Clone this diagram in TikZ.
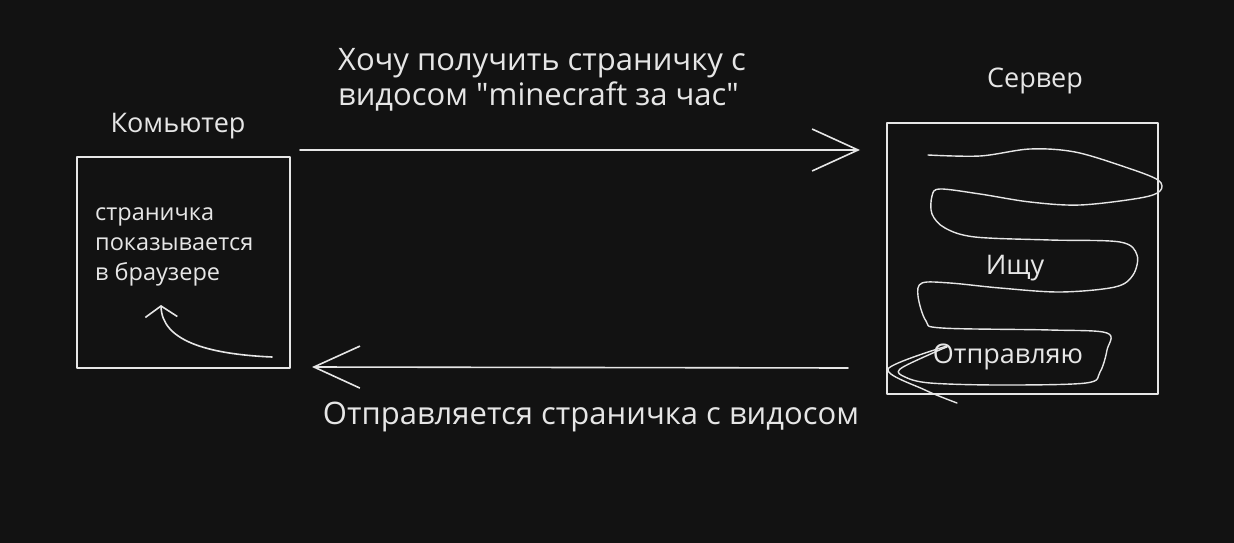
\documentclass[tikz,border=0pt]{standalone}
\usepackage{fontspec}
\setmainfont{Open Sans}
\newfontfamily\qf{Open Sans}
\usetikzlibrary{arrows.meta}
\definecolor{bgc}{HTML}{121212}
\definecolor{ink}{HTML}{E6E6E6}
\tikzset{
  sketch/.style={draw=ink, line width=1.6pt, line cap=round, line join=round},
  boxshape/.style={sketch, rectangle, inner sep=0pt},
  lbl/.style={text=ink, font=\fontsize{27}{34}\selectfont, inner sep=0pt},
  wide/.style={text=ink, font=\fontsize{31}{35}\selectfont, inner sep=0pt},
  small/.style={text=ink, font=\fontsize{23.5}{30}\selectfont, inner sep=0pt, align=left},
  bigarrow/.style={sketch, -{Straight Barb[length=46pt, width=42pt, line width=1.6pt]}},
  smallarrow/.style={sketch, -{Straight Barb[length=11pt, width=32pt, line width=1.6pt]}}
}
\begin{document}
\begin{tikzpicture}[x=1pt, y=-1pt]
\useasboundingbox (0,0) rectangle (1234,543);
\fill[bgc] (0,0) rectangle (1234,543);

% computer
\node[boxshape, minimum width=213pt, minimum height=211pt] (comp) at (183.5,262.5) {};
\node[lbl] (compl) at (178,126) {Комьютер};
\node[small, anchor=north west] (page) at (95,207) {страничка\\показывается\\в браузере};
\coordinate (ca1) at (272,357);
\coordinate (ca2) at (161,305);
\draw[smallarrow] (ca1) .. controls (205,354) and (162,340) .. (ca2);

% server
\node[boxshape, minimum width=271pt, minimum height=271pt] (srv) at (1022.5,258.5) {};
\node[lbl] (srvl) at (1035,81) {Сервер};
\draw[sketch, line width=1.4pt] plot[smooth, tension=0.55] coordinates {
 (928,155) (980,156) (1030,149) (1075,152) (1125,167) (1158,180) (1160,191)
 (1140,198) (1080,205) (1030,202) (980,194) (940,189) (932,196) (932,214)
 (945,228) (975,237) (1050,240) (1120,242) (1137,255) (1133,275) (1115,287)
 (1060,292) (1000,288) (950,283) (922,283) (918,296) (926,321) (942,328)
 (1050,330) (1107,333) (1107,350) (1100,372) (1086,383) (1000,385) (930,383)
 (905,377) (900,369) (935,352) (947,347)};
\draw[sketch, line width=1.4pt] plot[smooth, tension=0.5] coordinates {
 (947,346) (888,369) (925,390) (957,403)};
\node[lbl] (search) at (1015,268) {Ищу};
\node[lbl] (send) at (1008,357) {Отправляю};

% arrows
\coordinate (a1s) at (300,150);
\coordinate (a1e) at (860,150);
\coordinate (a2s) at (848,368);
\coordinate (a2e) at (312,367);
\draw[bigarrow] (a1s) -- (a1e);
\draw[bigarrow] (a2s) -- (a2e);

\node[wide, anchor=west, align=left] (req) at (338,80) {Хочу получить страничку с\\видосом {\qf"}minecraft за час{\qf"}};
\node[wide] (resp) at (591,417) {Отправляется страничка с видосом};
\end{tikzpicture}
\end{document}
